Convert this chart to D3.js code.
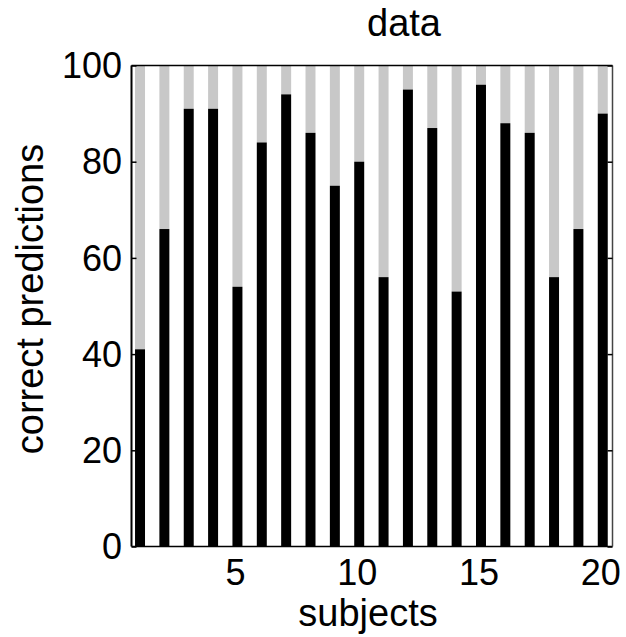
<!DOCTYPE html>
<html>
<head>
<meta charset="utf-8">
<script src="https://cdn.jsdelivr.net/npm/d3@7"></script>
<style>
  body { margin: 0; background: #fff; }
  text { font-family: "Liberation Sans", Arial, sans-serif; fill: #000; }
</style>
</head>
<body>
<svg id="chart" width="626" height="637"></svg>
<script>
'use strict';

const subjects = d3.range(1, 21);
const correct = [41, 66, 91, 91, 54, 84, 94, 86, 75, 80, 56, 95, 87, 53, 96, 88, 86, 56, 66, 90];
const total = 100;
const xTicks = [5, 10, 15, 20];
const yTicks = [0, 20, 40, 60, 80, 100];

const svg = d3.select('#chart');
const plot = { left: 131.5, right: 612.5, top: 65.5, bottom: 546.5 };

const x = d3.scaleLinear().domain([0.65, 20.4]).range([plot.left, plot.right]);
const y = d3.scaleLinear().domain([0, total]).range([plot.bottom, plot.top]);
const barW = x(1.41) - x(1);

// gray remainder on top, black correct part below
svg.append('g').selectAll('rect.rest')
  .data(subjects)
  .join('rect')
  .attr('x', d => x(d) - barW / 2)
  .attr('y', y(total))
  .attr('width', barW)
  .attr('height', (d, i) => y(correct[i]) - y(total))
  .attr('fill', '#c8c8c8');

svg.append('g').selectAll('rect.hit')
  .data(subjects)
  .join('rect')
  .attr('x', d => x(d) - barW / 2)
  .attr('y', (d, i) => y(correct[i]))
  .attr('width', barW)
  .attr('height', (d, i) => y(0) - y(correct[i]))
  .attr('fill', '#000');

// box
const box = svg.append('g').attr('fill', 'none').attr('stroke-width', 1.5);
box.append('line').attr('x1', plot.left).attr('x2', plot.right).attr('y1', plot.top).attr('y2', plot.top).attr('stroke', '#000');
box.append('line').attr('x1', plot.left).attr('x2', plot.right).attr('y1', plot.bottom).attr('y2', plot.bottom).attr('stroke', '#000');
box.append('line').attr('x1', plot.left).attr('x2', plot.left).attr('y1', plot.top).attr('y2', plot.bottom).attr('stroke', '#000').attr('stroke-width', 2);
box.append('line').attr('x1', plot.right).attr('x2', plot.right).attr('y1', plot.top).attr('y2', plot.bottom).attr('stroke', '#444');

// inward ticks
const yAxisL = d3.axisRight(y).tickValues(yTicks).tickSize(5).tickFormat('');
const yAxisR = d3.axisLeft(y).tickValues(yTicks).tickSize(5).tickFormat('');
const xAxisB = d3.axisTop(x).tickValues(xTicks).tickSize(5).tickFormat('');
svg.append('g').attr('transform', `translate(${plot.left},0)`).call(yAxisL).call(g => g.select('.domain').remove());
svg.append('g').attr('transform', `translate(${plot.right},0)`).call(yAxisR).call(g => g.select('.domain').remove());
svg.append('g').attr('transform', `translate(0,${plot.bottom})`).call(xAxisB).call(g => g.select('.domain').remove());
svg.selectAll('.tick line').attr('stroke', '#000').attr('stroke-width', 1.5);

// tick labels
svg.append('g').selectAll('text')
  .data(yTicks)
  .join('text')
  .attr('x', 122)
  .attr('y', d => y(d))
  .attr('dy', '0.35em')
  .attr('text-anchor', 'end')
  .attr('font-size', 36)
  .text(d => d);

svg.append('g').selectAll('text')
  .data(xTicks)
  .join('text')
  .attr('x', d => x(d) - 2)
  .attr('y', 585)
  .attr('text-anchor', 'middle')
  .attr('font-size', 36)
  .text(d => d);

// labels
svg.append('text')
  .attr('x', 404).attr('y', 36)
  .attr('text-anchor', 'middle')
  .attr('font-size', 38)
  .text('data');

svg.append('text')
  .attr('x', 368).attr('y', 626)
  .attr('text-anchor', 'middle')
  .attr('font-size', 38)
  .text('subjects');

svg.append('text')
  .attr('transform', 'translate(43,299) rotate(-90)')
  .attr('text-anchor', 'middle')
  .attr('font-size', 38)
  .text('correct predictions');
</script>
</body>
</html>
